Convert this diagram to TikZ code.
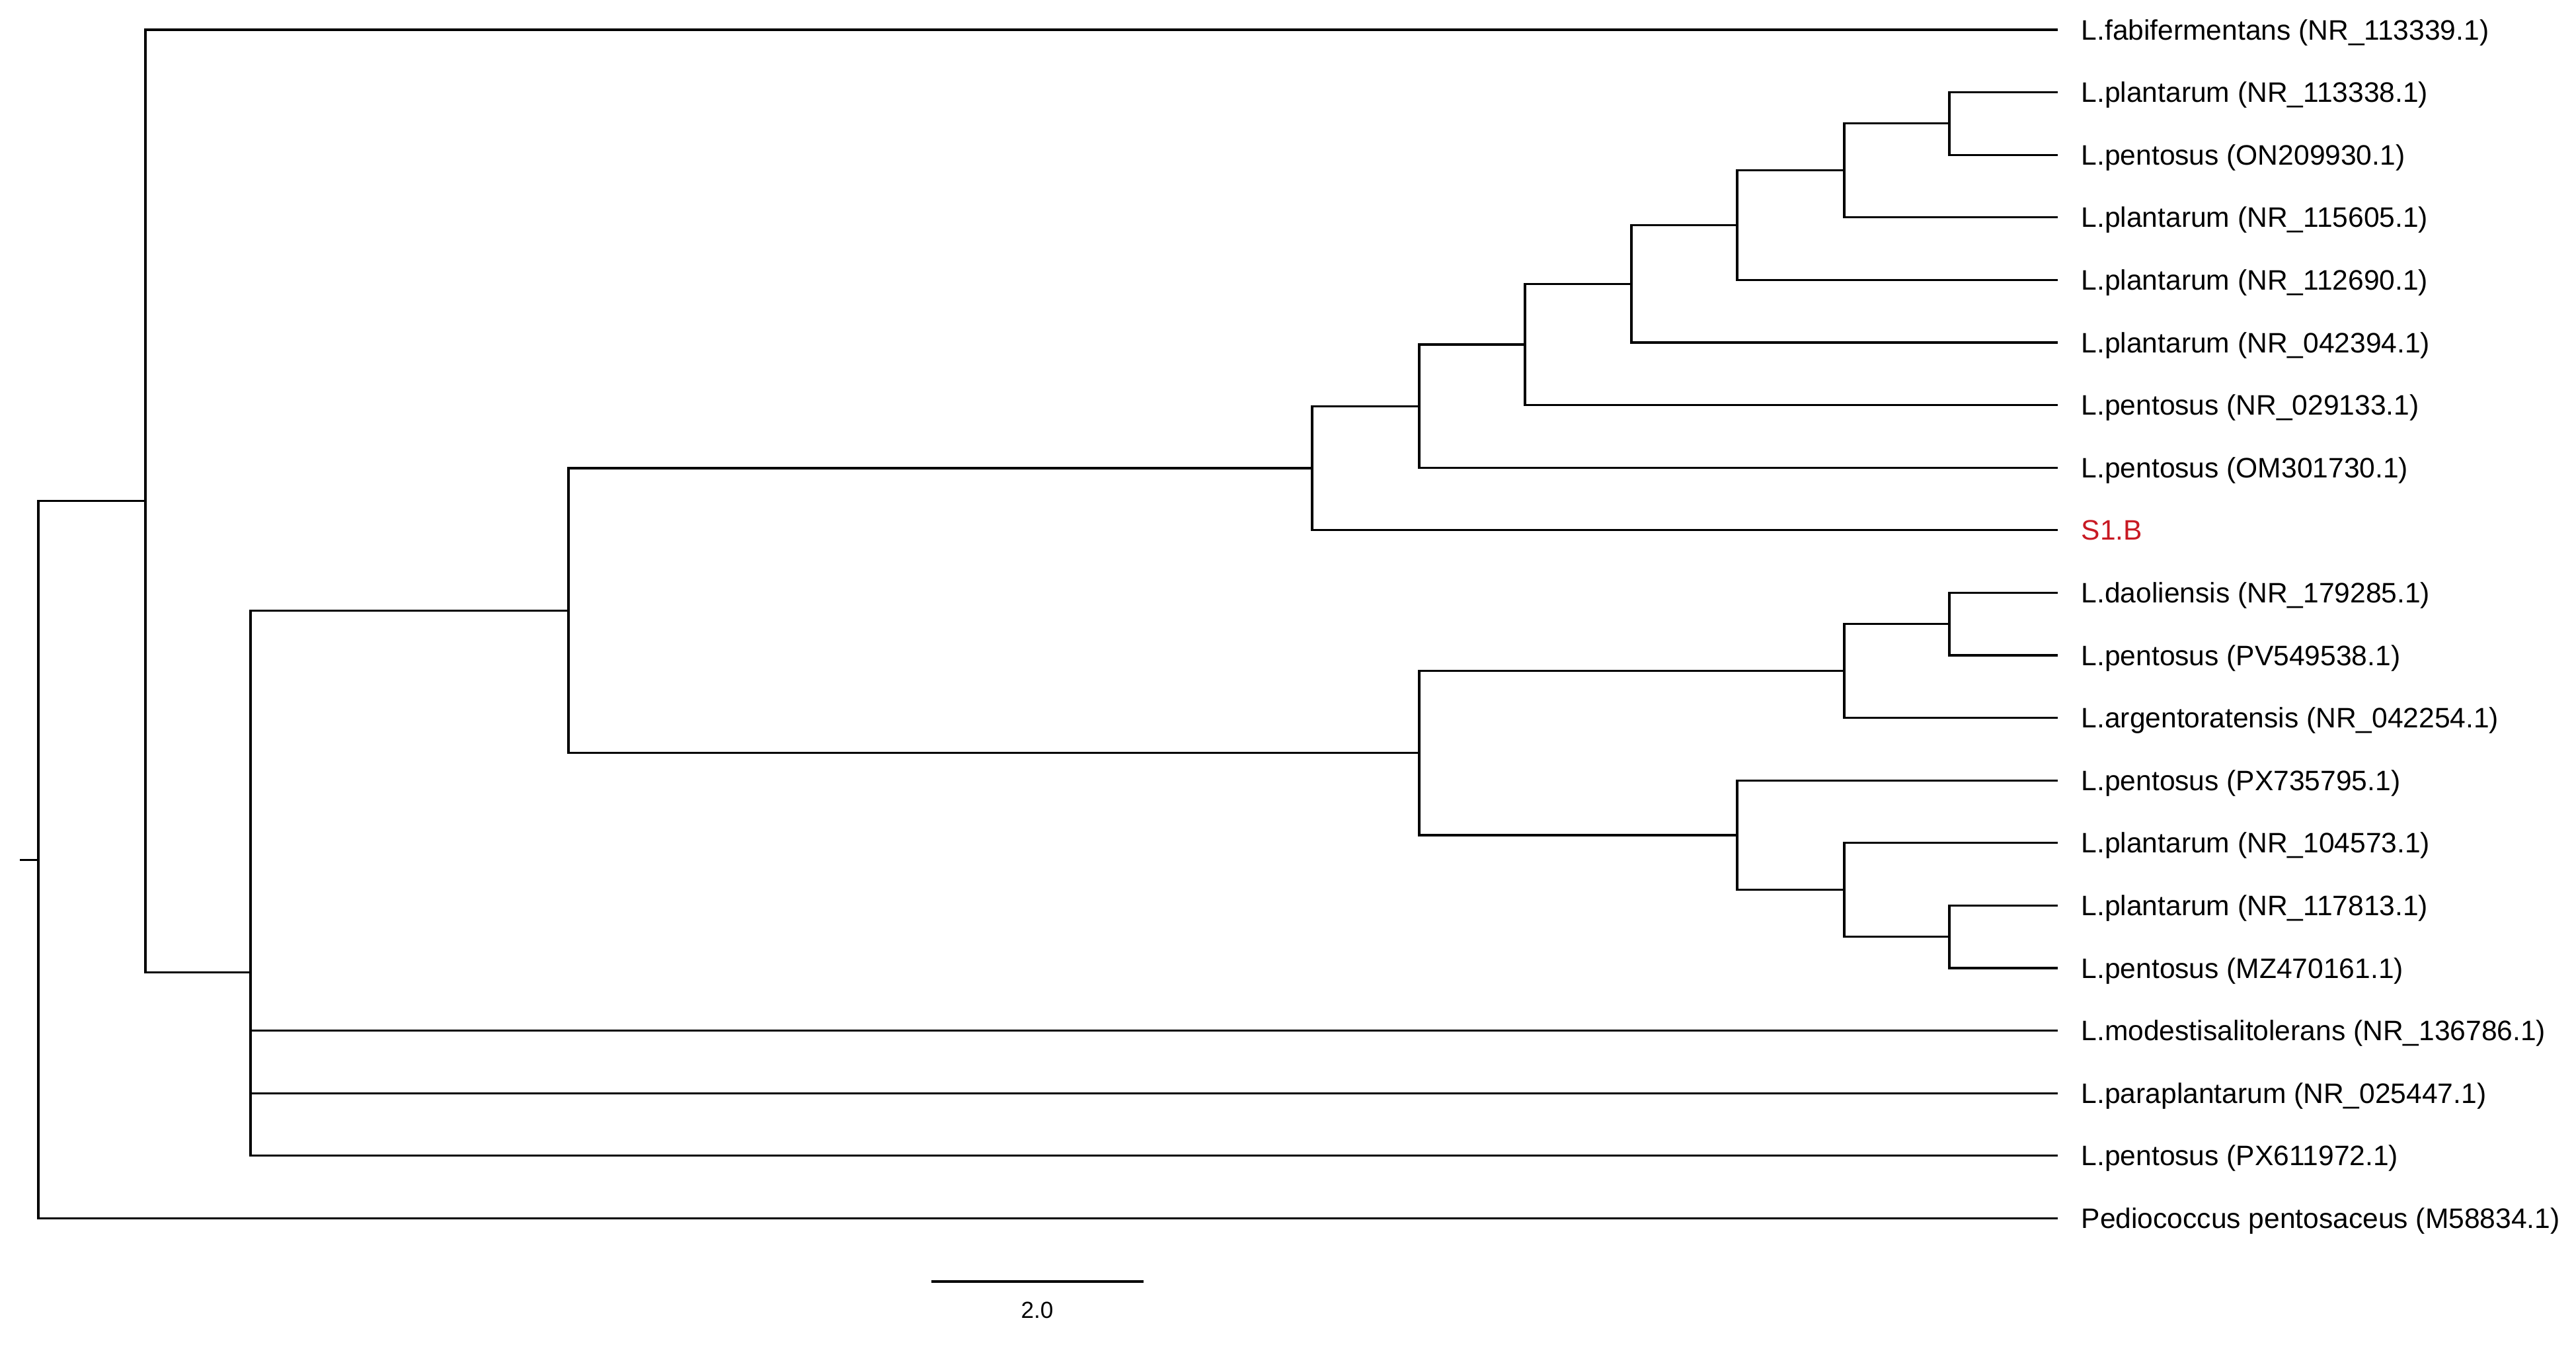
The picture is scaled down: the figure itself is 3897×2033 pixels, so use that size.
\documentclass[tikz,border=0pt]{standalone}
\usepackage{fontspec}
\setmainfont{Liberation Sans}
\definecolor{sred}{RGB}{200,25,35}
\begin{document}
\begin{tikzpicture}[x=0.01cm,y=-0.01cm,
  br/.style={line width=0.9pt},
  lab/.style={anchor=base west, inner sep=0pt, font=\fontsize{12.1pt}{14pt}\selectfont},
  scl/.style={anchor=center, inner sep=0pt, font=\fontsize{10pt}{12pt}\selectfont}]
\useasboundingbox (0,0) rectangle (3897,2033);
% leaf tips
\coordinate (t0) at (3113,45);
\coordinate (t1) at (3113,139.6);
\coordinate (t2) at (3113,234.2);
\coordinate (t3) at (3113,328.8);
\coordinate (t4) at (3113,423.4);
\coordinate (t5) at (3113,518);
\coordinate (t6) at (3113,612.6);
\coordinate (t7) at (3113,707.2);
\coordinate (t8) at (3113,801.8);
\coordinate (t9) at (3113,896.4);
\coordinate (t10) at (3113,991);
\coordinate (t11) at (3113,1085.6);
\coordinate (t12) at (3113,1180.2);
\coordinate (t13) at (3113,1274.8);
\coordinate (t14) at (3113,1369.4);
\coordinate (t15) at (3113,1464);
\coordinate (t16) at (3113,1558.6);
\coordinate (t17) at (3113,1653.2);
\coordinate (t18) at (3113,1747.8);
\coordinate (t19) at (3113,1842.4);
% internal nodes
\coordinate (R) at (30,1300.1);
\coordinate (A) at (58,1300.1);
\coordinate (B) at (220,757.9);
\coordinate (C) at (379,1470.75);
\coordinate (D) at (860,923.4);
\coordinate (E) at (1985,708);
\coordinate (F) at (2147,1138.8);
\coordinate (G) at (2147,614.1);
\coordinate (H) at (2307,521);
\coordinate (I) at (2468,429.3);
\coordinate (J) at (2628,340.6);
\coordinate (K) at (2790,257.85);
\coordinate (L) at (2949,186.9);
\coordinate (M) at (2790,1014.6);
\coordinate (O) at (2949,943.7);
\coordinate (N) at (2628,1263);
\coordinate (P) at (2790,1345.75);
\coordinate (Q) at (2949,1416.7);
% branches
\draw[br] (R) -- (A);
\draw[br] (A) |- (B);
\draw[br] (A) |- (t19);
\draw[br] (B) |- (t0);
\draw[br] (B) |- (C);
\draw[br] (C) |- (D);
\draw[br] (C) |- (t16);
\draw[br] (C) |- (t17);
\draw[br] (C) |- (t18);
\draw[br] (D) |- (E);
\draw[br] (D) |- (F);
\draw[br] (E) |- (G);
\draw[br] (E) |- (t8);
\draw[br] (G) |- (H);
\draw[br] (G) |- (t7);
\draw[br] (H) |- (I);
\draw[br] (H) |- (t6);
\draw[br] (I) |- (J);
\draw[br] (I) |- (t5);
\draw[br] (J) |- (K);
\draw[br] (J) |- (t4);
\draw[br] (K) |- (L);
\draw[br] (K) |- (t3);
\draw[br] (L) |- (t1);
\draw[br] (L) |- (t2);
\draw[br] (F) |- (M);
\draw[br] (F) |- (N);
\draw[br] (M) |- (O);
\draw[br] (M) |- (t11);
\draw[br] (O) |- (t9);
\draw[br] (O) |- (t10);
\draw[br] (N) |- (t12);
\draw[br] (N) |- (P);
\draw[br] (P) |- (t13);
\draw[br] (P) |- (Q);
\draw[br] (Q) |- (t14);
\draw[br] (Q) |- (t15);
% labels
\node[lab] (n0) at (3148,60) {L.fabifermentans (NR\_113339.1)};
\node[lab] (n1) at (3148,154.6) {L.plantarum (NR\_113338.1)};
\node[lab] (n2) at (3148,249.2) {L.pentosus (ON209930.1)};
\node[lab] (n3) at (3148,343.8) {L.plantarum (NR\_115605.1)};
\node[lab] (n4) at (3148,438.4) {L.plantarum (NR\_112690.1)};
\node[lab] (n5) at (3148,533) {L.plantarum (NR\_042394.1)};
\node[lab] (n6) at (3148,627.6) {L.pentosus (NR\_029133.1)};
\node[lab] (n7) at (3148,722.2) {L.pentosus (OM301730.1)};
\node[lab,text=sred] (n8) at (3148,816.8) {S1.B};
\node[lab] (n9) at (3148,911.4) {L.daoliensis (NR\_179285.1)};
\node[lab] (n10) at (3148,1006) {L.pentosus (PV549538.1)};
\node[lab] (n11) at (3148,1100.6) {L.argentoratensis (NR\_042254.1)};
\node[lab] (n12) at (3148,1195.2) {L.pentosus (PX735795.1)};
\node[lab] (n13) at (3148,1289.8) {L.plantarum (NR\_104573.1)};
\node[lab] (n14) at (3148,1384.4) {L.plantarum (NR\_117813.1)};
\node[lab] (n15) at (3148,1479) {L.pentosus (MZ470161.1)};
\node[lab] (n16) at (3148,1573.6) {L.modestisalitolerans (NR\_136786.1)};
\node[lab] (n17) at (3148,1668.2) {L.paraplantarum (NR\_025447.1)};
\node[lab] (n18) at (3148,1762.8) {L.pentosus (PX611972.1)};
\node[lab] (n19) at (3148,1857.4) {Pediococcus pentosaceus (M58834.1)};
% scale bar
\coordinate (s0) at (1409,1938);
\coordinate (s1) at (1730,1938);
\draw[br] (s0) -- (s1);
\node[scl] (sl) at (1569,1981) {2.0};
\end{tikzpicture}
\end{document}
